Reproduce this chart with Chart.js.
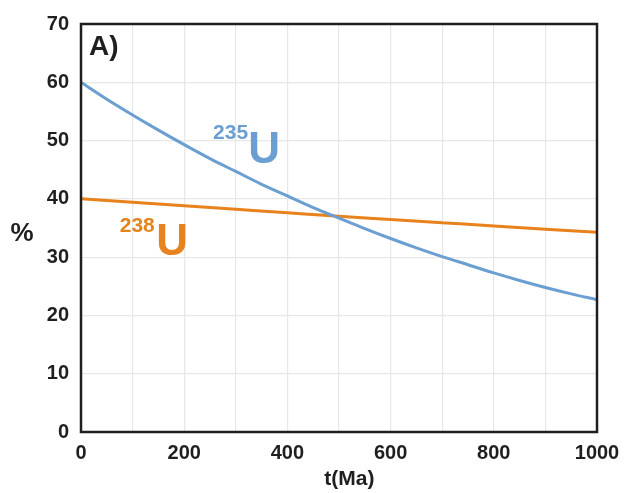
<!DOCTYPE html>
<html>
<head>
<meta charset="utf-8">
<script src="https://cdn.jsdelivr.net/npm/chart.js@4/dist/chart.umd.min.js"></script>
<style>
html,body{margin:0;padding:0;background:#fff;}
#wrap{width:633px;height:493px;position:relative;}
</style>
</head>
<body>
<div id="wrap"><canvas id="c" width="633" height="493"></canvas></div>
<script>
// time (Ma)
const tU235 = [0,50,100,150,200,250,300,350,400,450,500,550,600,650,700,750,800,850,900,950,1000];
// 235U abundance (%)
const pU235 = [60,57.1,54.4,51.8,49.3,46.9,44.7,42.5,40.5,38.5,36.7,34.9,33.2,31.6,30.1,28.7,27.3,26.0,24.8,23.7,22.7];
const tU238 = [0,100,200,300,400,500,600,700,800,900,1000];
// 238U abundance (%)
const pU238 = [40,39.4,38.8,38.2,37.6,37.0,36.45,35.9,35.35,34.8,34.25];
const xTickLabels = ['0','200','400','600','800','1000'];
const yTickLabels = ['0','10','20','30','40','50','60','70'];

const BLUE = '#6b9fd1';
const ORANGE = '#e8821c';
const INK = '#1f1f1f';
const FONT = '"Liberation Sans", Arial, sans-serif';

const annotations = {
  id: 'annotations',
  afterDraw(chart) {
    const ctx = chart.ctx, a = chart.chartArea;
    const xs = chart.scales.x, ys = chart.scales.y;
    ctx.save();
    // frame
    ctx.strokeStyle = INK;
    ctx.lineWidth = 2.5;
    ctx.strokeRect(a.left, a.top, a.right - a.left, a.bottom - a.top);
    ctx.textBaseline = 'alphabetic';
    ctx.textAlign = 'left';
    // A)
    ctx.fillStyle = INK;
    ctx.font = 'bold 28px ' + FONT;
    ctx.fillText('A)', a.left + 8, a.top + 31);
    // % axis label
    ctx.font = 'bold 26px ' + FONT;
    ctx.textAlign = 'center';
    ctx.fillText('%', 22, ys.getPixelForValue(35) + 13);
    // t(Ma)
    ctx.font = 'bold 21px ' + FONT;
    ctx.fillText('t(Ma)', xs.getPixelForValue(520), 485);
    ctx.textAlign = 'left';
    // 235U
    ctx.fillStyle = BLUE;
    ctx.font = 'bold 21px ' + FONT;
    ctx.fillText('235', xs.getPixelForValue(256), ys.getPixelForValue(50.2));
    ctx.font = 'bold 44px ' + FONT;
    ctx.fillText('U', xs.getPixelForValue(324), ys.getPixelForValue(46.2));
    // 238U
    ctx.fillStyle = ORANGE;
    ctx.font = 'bold 21px ' + FONT;
    ctx.fillText('238', xs.getPixelForValue(75), ys.getPixelForValue(34.3));
    ctx.font = 'bold 44px ' + FONT;
    ctx.fillText('U', xs.getPixelForValue(146), ys.getPixelForValue(30.3));
    ctx.restore();
  }
};

new Chart(document.getElementById('c'), {
  type: 'line',
  data: {
    datasets: [
      { label: '235U', data: tU235.map((t,i)=>({x:t,y:pU235[i]})), borderColor: BLUE, borderWidth: 3, pointRadius: 0, cubicInterpolationMode: 'monotone', fill: false },
      { label: '238U', data: tU238.map((t,i)=>({x:t,y:pU238[i]})), borderColor: ORANGE, borderWidth: 3, pointRadius: 0, cubicInterpolationMode: 'monotone', fill: false }
    ]
  },
  options: {
    responsive: false,
    animation: false,
    devicePixelRatio: 1,
    layout: { padding: { left: 0, right: 36, top: 21, bottom: 0 } },
    plugins: { legend: { display: false }, tooltip: { enabled: false } },
    scales: {
      x: {
        type: 'linear', min: 0, max: 1000,
        afterFit(s) { s.height = 61; },
        grid: { color: '#e7e7e7', lineWidth: 1.2, drawTicks: false },
        border: { display: false },
        ticks: {
          stepSize: 100, autoSkip: false, padding: 9, color: INK,
          font: { family: FONT, size: 20, weight: 'bold' },
          callback(v) { const s = String(v); return xTickLabels.includes(s) ? s : ''; }
        }
      },
      y: {
        min: 0, max: 70,
        afterFit(s) { s.width = 81; },
        grid: { color: '#e7e7e7', lineWidth: 1.2, drawTicks: false },
        border: { display: false },
        ticks: {
          stepSize: 10, padding: 12, color: INK,
          font: { family: FONT, size: 20, weight: 'bold' },
          callback(v) { const s = String(v); return yTickLabels.includes(s) ? s : ''; }
        }
      }
    }
  },
  plugins: [annotations]
});
</script>
</body>
</html>
